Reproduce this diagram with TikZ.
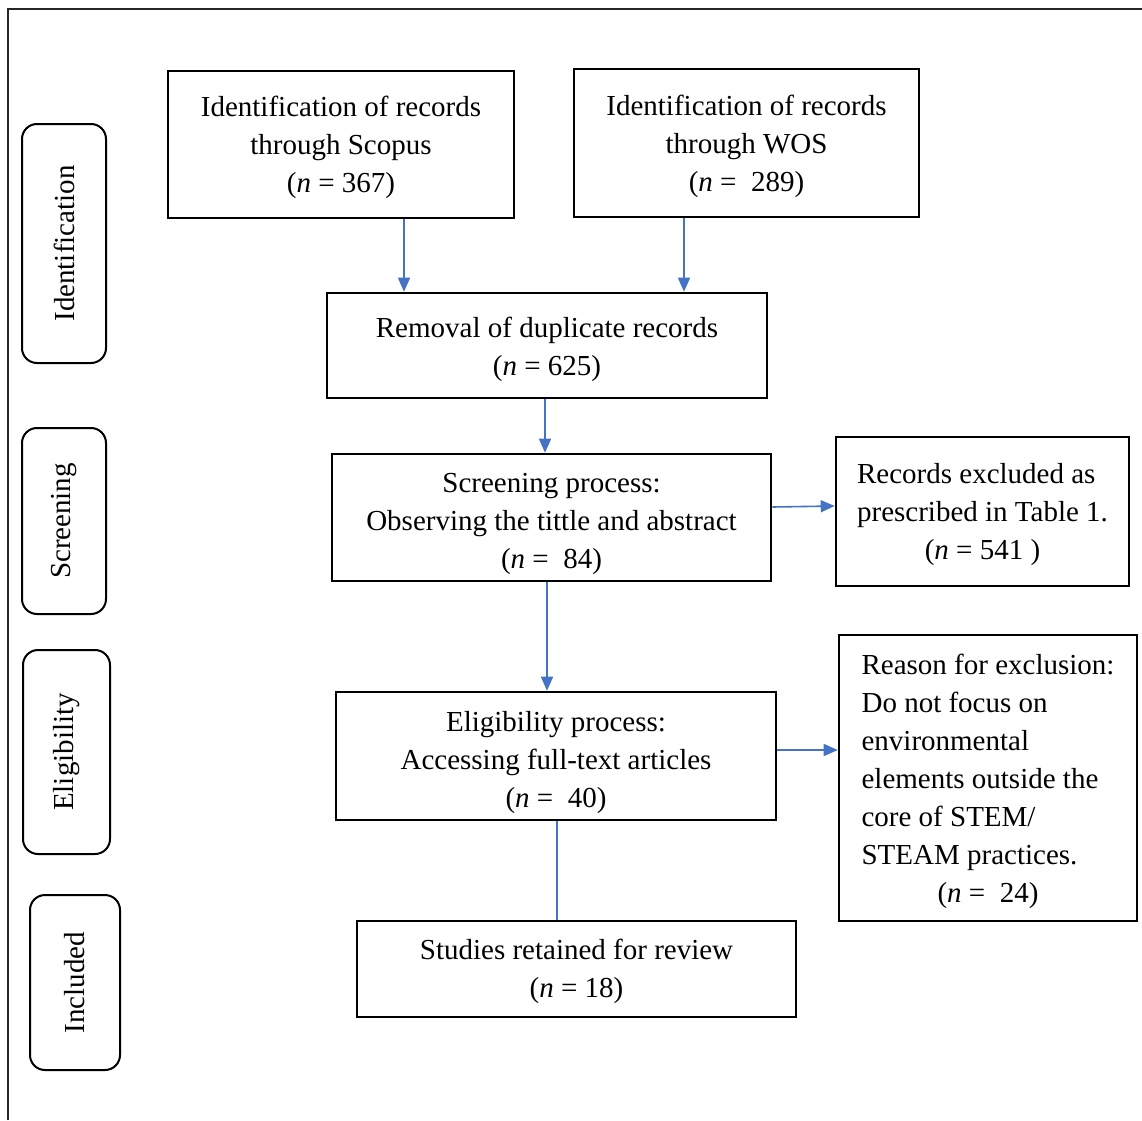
\documentclass[tikz,border=0pt]{standalone}
\usepackage{fontspec}
\setmainfont{Liberation Serif}
\usetikzlibrary{arrows.meta}
\definecolor{arrowblue}{HTML}{4472C4}
\newcommand{\nval}[1]{(\textit{n} = #1)}
\begin{document}
\begin{tikzpicture}[x=1pt,y=-1pt,
  box/.style={draw=black, line width=2.6pt, inner sep=0pt},
  txt/.style={inner sep=0pt, font=\fontsize{29}{38}\selectfont, align=center},
  phase/.style={draw=black, line width=2pt, rounded corners=15pt, inner sep=0pt, rotate=90, font=\fontsize{29}{38}\selectfont},
  conn/.style={draw=arrowblue, line width=1.6pt},
  arr/.style={conn, -{Triangle[length=14pt,width=12pt]}}]
\useasboundingbox (0,0) rectangle (1142,1120);
\fill[white] (0,0) rectangle (1142,1120);
\draw[line width=1.8pt, black!85] (8,1120) -- (8,9) -- (1142,9);

% phase labels
\node[phase, minimum width=239pt, minimum height=84pt] (pid) at (64,243.5) {Identification};
\node[phase, minimum width=186pt, minimum height=84pt] (psc) at (64,521) {Screening};
\node[phase, minimum width=204pt, minimum height=87pt] (pel) at (66.5,752) {Eligibility};
\node[phase, minimum width=175pt, minimum height=90pt] (pin) at (75,982.5) {Included};

% boxes
\node[box, minimum width=346pt, minimum height=147pt] (scopus) at (341,144.5) {};
\node[txt] (scopus-t) at ([yshift=-3pt]scopus.center) {Identification of records\\through Scopus\\\nval{367}};
\node[box, minimum width=345pt, minimum height=148pt] (wos) at (746.5,143) {};
\node[txt] (wos-t) at ([yshift=-3pt]wos.center) {Identification of records\\through WOS\\\nval{\ 289}};
\node[box, minimum width=440pt, minimum height=105pt] (removal) at (547,345.5) {};
\node[txt] (removal-t) at ([yshift=-3.5pt]removal.center) {Removal of duplicate records\\\nval{625}};
\node[box, minimum width=439pt, minimum height=127pt] (screen) at (551.5,517.5) {};
\node[txt] (screen-t) at ([yshift=-6.5pt]screen.center) {Screening process:\\Observing the tittle and abstract\\\nval{\ 84}};
\node[box, minimum width=293pt, minimum height=149pt] (excl) at (982.5,511.5) {};
\node[txt] (excl-t) at ([yshift=-2.5pt]excl.center) {\begin{tabular}{@{}l@{}}Records excluded as\\prescribed in Table 1.\\\multicolumn{1}{@{}c@{}}{\nval{541\ }}\end{tabular}};
\node[box, minimum width=440pt, minimum height=128pt] (elig) at (556,756) {};
\node[txt] (elig-t) at ([yshift=-7pt]elig.center) {Eligibility process:\\Accessing full-text articles\\\nval{\ 40}};
\node[box, minimum width=298pt, minimum height=286pt] (reason) at (988,778) {};
\node[txt] (reason-t) at ([yshift=-3pt]reason.center) {\begin{tabular}{@{}l@{}}Reason for exclusion:\\Do not focus on\\environmental\\elements outside the\\core of STEM/\\STEAM practices.\\\multicolumn{1}{@{}c@{}}{\nval{\ 24}}\end{tabular}};
\node[box, minimum width=439pt, minimum height=96pt] (studies) at (576.5,969) {};
\node[txt] (studies-t) at ([yshift=-2pt]studies.center) {Studies retained for review\\\nval{18}};

% connectors
\draw[arr] (404,0 |- scopus.south) -- (404,0 |- removal.north);
\draw[arr] (684,0 |- wos.south) -- (684,0 |- removal.north);
\draw[arr] (545,0 |- removal.south) -- (545,0 |- screen.north);
\draw[arr] (547,0 |- screen.south) -- (547,0 |- elig.north);
\draw[arr] (screen.east |- 0,507) -- (excl.west |- 0,506);
\draw[arr] (elig.east |- 0,750) -- (reason.west |- 0,750);
\draw[conn] (557,0 |- elig.south) -- (557,0 |- studies.north);
\end{tikzpicture}
\end{document}
